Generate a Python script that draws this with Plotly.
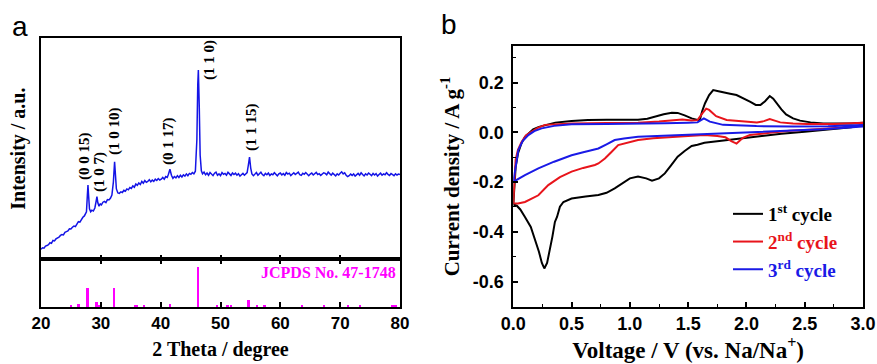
import plotly.graph_objects as go

# ---------------- Panel a: XRD ----------------
two_theta = [20.00, 20.25, 20.50, 20.75, 21.00, 21.25, 21.50, 21.75, 22.00, 22.25, 22.50, 22.75,
             23.00, 23.25, 23.50, 23.75, 24.00, 24.25, 24.50, 24.75, 25.00, 25.25, 25.50, 25.75,
             26.00, 26.25, 26.50, 26.75, 27.00, 27.25, 27.45, 27.60, 27.75, 27.85, 27.95, 28.10,
             28.30, 28.50, 28.75, 29.00, 29.20, 29.35, 29.50, 29.70, 29.90, 30.10, 30.35, 30.60,
             30.85, 31.10, 31.35, 31.60, 31.85, 32.10, 32.30, 32.45, 32.60, 32.85, 33.10, 33.35,
             33.60, 33.85, 34.10, 34.35, 34.60, 34.85, 35.10, 35.35, 35.60, 35.85, 36.10, 36.35,
             36.60, 36.85, 37.10, 37.35, 37.60, 37.85, 38.10, 38.35, 38.60, 38.85, 39.10, 39.35,
             39.60, 39.85, 40.10, 40.35, 40.60, 40.85, 41.10, 41.30, 41.55, 41.80, 42.05, 42.30,
             42.55, 42.80, 43.05, 43.30, 43.55, 43.80, 44.05, 44.30, 44.55, 44.80, 45.05, 45.30,
             45.55, 45.80, 46.05, 46.20, 46.30, 46.45, 46.60, 46.80, 47.00, 47.25, 47.50, 47.75,
             48.00, 48.25, 48.50, 48.75, 49.00, 49.25, 49.50, 49.75, 50.00, 50.25, 50.50, 50.75,
             51.00, 51.25, 51.50, 51.75, 52.00, 52.25, 52.50, 52.75, 53.00, 53.25, 53.50, 53.75,
             54.00, 54.25, 54.45, 54.65, 54.85, 55.05, 55.25, 55.50, 55.75, 56.00, 56.25, 56.50,
             56.75, 57.00, 57.25, 57.50, 57.75, 58.00, 58.25, 58.50, 58.75, 59.00, 59.25, 59.50,
             59.75, 60.00, 60.25, 60.50, 60.75, 61.00, 61.25, 61.50, 61.75, 62.00, 62.25, 62.50,
             62.75, 63.00, 63.25, 63.50, 63.75, 64.00, 64.25, 64.50, 64.75, 65.00, 65.25, 65.50,
             65.75, 66.00, 66.25, 66.50, 66.75, 67.00, 67.25, 67.50, 67.75, 68.00, 68.25, 68.50,
             68.75, 69.00, 69.25, 69.50, 69.75, 70.00, 70.25, 70.50, 70.75, 71.00, 71.25, 71.50,
             71.75, 72.00, 72.25, 72.50, 72.75, 73.00, 73.25, 73.50, 73.75, 74.00, 74.25, 74.50,
             74.75, 75.00, 75.25, 75.50, 75.75, 76.00, 76.25, 76.50, 76.75, 77.00, 77.25, 77.50,
             77.75, 78.00, 78.25, 78.50, 78.75, 79.00, 79.25, 79.50, 79.75, 80.00]
intensity = [45, 52, 50, 60, 62, 66, 75, 72, 85, 83, 92, 96,
             100, 108, 112, 110, 122, 125, 128, 138, 137, 145, 150, 148,
             160, 170, 168, 180, 190, 196, 205, 215, 290, 336, 290, 228,
             215, 222, 218, 232, 260, 283, 255, 240, 250, 246, 258, 262,
             256, 270, 268, 276, 290, 350, 441, 380, 318, 300, 298, 305,
             302, 312, 308, 318, 314, 324, 320, 332, 326, 340, 334, 345,
             338, 352, 344, 356, 348, 352, 360, 350, 358, 352, 362, 356,
             365, 358, 362, 370, 362, 374, 370, 384, 407, 380, 366, 374,
             368, 378, 370, 380, 372, 382, 376, 386, 378, 388, 384, 392,
             386, 398, 540, 790, 855, 690, 470, 400, 386, 394, 382, 390,
             380, 392, 384, 378, 389, 394, 380, 386, 378, 392, 384, 388,
             380, 393, 386, 379, 390, 383, 389, 380, 387, 376, 382, 388,
             380, 386, 392, 425, 462, 412, 386, 378, 388, 392, 380, 386,
             394, 383, 378, 388, 382, 390, 379, 386, 382, 391, 384, 377,
             386, 390, 381, 387, 380, 392, 385, 389, 378, 384, 391, 383,
             388, 394, 382, 379, 389, 384, 392, 386, 378, 385, 390, 381,
             388, 393, 383, 387, 379, 384, 391, 388, 382, 394, 385, 380,
             389, 383, 377, 386, 381, 389, 395, 386, 391, 380, 374, 378,
             385, 379, 386, 376, 383, 388, 380, 391, 383, 377, 386, 381,
             390, 384, 378, 388, 381, 387, 376, 383, 389, 380, 386, 382,
             391, 384, 379, 388, 383, 378, 386, 381, 385, 383]

peak_labels = ["(0 0 15)", "(1 0 7)", "(1 0 10)", "(0 1 17)", "(1 1 0)", "(1 1 15)"]
peak_label_x = [27.19, 29.69, 32.2, 41.23, 48.08, 55.1]
peak_label_y = [349, 295, 462, 417, 801, 480]

ref_pos = [25.0, 26.3, 27.8, 29.3, 29.75, 32.2, 35.7, 36.0, 37.2, 41.6, 46.3, 49.5, 51.2, 51.8,
           54.7, 56.2, 57.4, 63.7, 67.3, 71.3, 73.4, 78.8, 79.3]
ref_int = [3, 7, 46, 13, 3, 46, 5, 4, 5, 8, 100, 5, 5, 5, 18, 3, 5, 3, 5, 3, 3, 3, 3]

# ---------------- Panel b: CV ----------------
v1 = [0.00, 0.01, 0.02, 0.04, 0.07, 0.10, 0.13, 0.17, 0.22, 0.30, 0.36, 0.50, 0.64, 0.80, 0.95, 1.07,
      1.15, 1.21, 1.29, 1.36, 1.41, 1.47, 1.53, 1.58, 1.60, 1.62, 1.645, 1.68, 1.715, 1.76, 1.80, 1.86,
      1.915, 1.97, 2.03, 2.08, 2.12, 2.16, 2.20, 2.23, 2.26, 2.30, 2.34, 2.40, 2.46, 2.55, 2.66, 2.80,
      2.90, 3.00,
      3.00, 2.90, 2.70, 2.50, 2.30, 2.10, 1.95, 1.80, 1.70, 1.64, 1.58, 1.53, 1.47, 1.41, 1.35, 1.30,
      1.25, 1.19, 1.14, 1.07, 1.00, 0.94, 0.87, 0.80, 0.73, 0.62, 0.50, 0.43, 0.40, 0.375, 0.357,
      0.335, 0.315, 0.29, 0.266, 0.245, 0.22, 0.186, 0.15, 0.10, 0.06, 0.03, 0.00]
i1 = [-0.29, -0.20, -0.14, -0.085, -0.044, -0.018, -0.004, 0.012, 0.022, 0.033, 0.039, 0.046, 0.050,
      0.051, 0.051, 0.051, 0.055, 0.063, 0.073, 0.079, 0.078, 0.068, 0.056, 0.050, 0.050, 0.085, 0.117,
      0.150, 0.170, 0.165, 0.160, 0.155, 0.150, 0.138, 0.123, 0.110, 0.110, 0.125, 0.146, 0.135, 0.116,
      0.092, 0.072, 0.056, 0.047, 0.040, 0.036, 0.035, 0.036, 0.039,
      0.030, 0.020, 0.010, 0.002, -0.006, -0.016, -0.026, -0.034, -0.038, -0.042, -0.050, -0.055,
      -0.075, -0.098, -0.135, -0.165, -0.185, -0.194, -0.185, -0.178, -0.185, -0.205, -0.225, -0.243,
      -0.252, -0.258, -0.266, -0.280, -0.299, -0.34, -0.36, -0.42, -0.474, -0.525, -0.547, -0.525,
      -0.48, -0.433, -0.38, -0.34, -0.31, -0.295, -0.29]

v2 = [0.00, 0.01, 0.02, 0.04, 0.07, 0.11, 0.157, 0.21, 0.272, 0.40, 0.50, 0.80, 1.07, 1.25, 1.36, 1.45,
      1.53, 1.58, 1.62, 1.655, 1.68, 1.74, 1.83, 1.95, 2.09, 2.15, 2.20, 2.25, 2.29, 2.40, 2.52, 2.75,
      3.00,
      3.00, 2.80, 2.60, 2.37, 2.20, 2.03, 1.97, 1.915, 1.87, 1.82, 1.75, 1.64, 1.50, 1.36, 1.20, 1.07,
      0.98, 0.90, 0.84, 0.786, 0.73, 0.70, 0.60, 0.50, 0.40, 0.30, 0.215, 0.10, 0.04, 0.00]
i2 = [-0.285, -0.19, -0.11, -0.07, -0.040, -0.012, 0.003, 0.018, 0.030, 0.035, 0.036, 0.038, 0.039,
      0.044, 0.050, 0.052, 0.048, 0.049, 0.075, 0.095, 0.090, 0.065, 0.050, 0.044, 0.040, 0.045, 0.053,
      0.046, 0.040, 0.036, 0.034, 0.034, 0.039,
      0.030, 0.018, 0.012, 0.006, -0.002, -0.011, -0.022, -0.045, -0.035, -0.020, -0.015, -0.011,
      -0.015, -0.018, -0.024, -0.031, -0.040, -0.051, -0.080, -0.105, -0.125, -0.131, -0.143, -0.158,
      -0.180, -0.212, -0.253, -0.280, -0.286, -0.285]

v3 = [0.00, 0.02, 0.043, 0.08, 0.129, 0.18, 0.243, 0.35, 0.50, 0.80, 1.07, 1.30, 1.50, 1.58, 1.635,
      1.686, 1.80, 2.086, 2.40, 2.70, 3.00,
      3.00, 2.657, 2.30, 2.086, 1.80, 1.515, 1.36, 1.07, 0.95, 0.87, 0.80, 0.73, 0.60, 0.50, 0.35,
      0.215, 0.10, 0.00]
i3 = [-0.20, -0.13, -0.071, -0.035, -0.011, 0.005, 0.016, 0.026, 0.033, 0.034, 0.034, 0.037, 0.039,
      0.040, 0.056, 0.043, 0.030, 0.025, 0.023, 0.024, 0.029,
      0.023, 0.012, 0.005, 0.002, -0.004, -0.009, -0.011, -0.018, -0.025, -0.031, -0.048, -0.065,
      -0.080, -0.092, -0.118, -0.145, -0.172, -0.199]

cycle_names = ["1<sup>st</sup> cycle", "2<sup>nd</sup> cycle", "3<sup>rd</sup> cycle"]
cycle_colors = ["#000000", "#e8141b", "#1a1ae6"]

xrd_ticks = [20, 30, 40, 50, 60, 70, 80]
cv_xticks = [0.0, 0.5, 1.0, 1.5, 2.0, 2.5, 3.0]
cv_yticks = [-0.6, -0.4, -0.2, 0.0, 0.2]
cv_ytext = ["-0.6", "-0.4", "-0.2", "0.0", "0.2"]

# ---------------- Figure ----------------
SERIF = "Liberation Serif"
SANS = "Liberation Sans"
W, H = 877, 364
ML, MR, MT, MB = 41, 14, 38, 57
PW, PH = W - ML - MR, H - MT - MB


def px_x(p):
    return (p - ML) / PW


def px_y(p):
    return (H - MB - p) / PH


fig = go.Figure()

fig.add_trace(go.Scatter(x=two_theta, y=intensity, mode="lines",
                         line=dict(color="#1414e6", width=1.5),
                         xaxis="x", yaxis="y", showlegend=False))
fig.add_trace(go.Bar(x=ref_pos, y=ref_int, width=0.3, marker=dict(color="#ff00ff", line=dict(width=0)),
                     xaxis="x2", yaxis="y2", showlegend=False))

for v, i, n, c in zip([v1, v2, v3], [i1, i2, i3], cycle_names, cycle_colors):
    fig.add_trace(go.Scatter(x=v, y=i, mode="lines", line=dict(color=c, width=2),
                             name=f"<span style='color:{c}'>{n}</span>",
                             legendgroup=n, xaxis="x3", yaxis="y3"))

axis_line = dict(showline=True, linecolor="black", linewidth=1.6, mirror=True, showgrid=False,
                 zeroline=False)
tickfont_a = dict(family=SANS, size=17, color="black", weight="bold")
tickfont_b = dict(family=SANS, size=18, color="black", weight="bold")
titlefont_a = dict(family=SERIF, size=20, color="black", weight="bold")

xa_dom = [0, px_x(400)]
xb_dom = [px_x(513.3), 1.0]
split = px_y(259.3)

fig.update_layout(
    width=W, height=H,
    margin=dict(l=ML, r=MR, t=MT, b=MB, autoexpand=False),
    paper_bgcolor="white", plot_bgcolor="white",
    font=dict(family=SERIF, color="black"),
    bargap=0,
    xaxis=dict(domain=xa_dom, anchor="y", range=[20, 80], tickvals=xrd_ticks, ticks="inside",
               ticklen=5, tickwidth=1.5, tickcolor="black", showticklabels=False, **axis_line),
    yaxis=dict(domain=[split, 1.0], anchor="x", range=[0, 1000], showticklabels=False, ticks="",
               title=dict(text="Intensity / a.u.", font=titlefont_a, standoff=8), **axis_line),
    xaxis2=dict(domain=xa_dom, anchor="y2", matches="x", range=[20, 80], tickvals=xrd_ticks,
                ticks="inside", ticklen=5, tickwidth=1.5, tickcolor="black", tickfont=tickfont_a,
                title=dict(text="2 Theta / degree", font=titlefont_a, standoff=10),
                showline=True, linecolor="black", linewidth=1.6, mirror="ticks", showgrid=False,
                zeroline=False),
    yaxis2=dict(domain=[0, split], anchor="x2", range=[0, 120], showticklabels=False, ticks="",
                **axis_line),
    xaxis3=dict(domain=xb_dom, anchor="y3", range=[0, 3.0], tickvals=cv_xticks,
                ticktext=[f"{t:.1f}" for t in cv_xticks], ticks="inside", ticklen=5, tickwidth=1.5,
                tickcolor="black", tickfont=tickfont_b,
                minor=dict(dtick=0.25, ticks="inside", ticklen=3, tickwidth=1.2, tickcolor="black"),
                title=dict(text="Voltage / V (vs. Na/Na<sup>+</sup>)",
                           font=dict(family=SERIF, size=23, color="black", weight="bold"), standoff=6),
                **axis_line),
    yaxis3=dict(domain=[0, px_y(46)], anchor="x3", range=[-0.702, 0.347], tickvals=cv_yticks,
                ticktext=cv_ytext, ticks="inside", ticklen=5, tickwidth=1.5, tickcolor="black",
                tickfont=tickfont_b, ticklabelstandoff=4,
                minor=dict(dtick=0.1, ticks="inside", ticklen=3, tickwidth=1.2, tickcolor="black"),
                title=dict(text="Current density / A g<sup>-1</sup>",
                           font=dict(family=SERIF, size=21, color="black", weight="bold"), standoff=8),
                **axis_line),
    legend=dict(x=px_x(728), y=px_y(195), xanchor="left", yanchor="top",
                font=dict(family=SERIF, size=19, color="black", weight="bold"),
                bgcolor="rgba(0,0,0,0)", itemwidth=30, tracegroupgap=5, traceorder="normal"),
)

# panel letters
fig.add_annotation(text="a", x=px_x(20), y=px_y(26), xref="paper", yref="paper", showarrow=False,
                   xanchor="center", yanchor="middle",
                   font=dict(family=SANS, size=28, color="black"))
fig.add_annotation(text="b", x=px_x(449), y=px_y(25), xref="paper", yref="paper", showarrow=False,
                   xanchor="center", yanchor="middle",
                   font=dict(family=SANS, size=28, color="black"))

# peak labels
for t, x, y in zip(peak_labels, peak_label_x, peak_label_y):
    fig.add_annotation(text=t, x=x, y=y, xref="x", yref="y", textangle=-90, showarrow=False,
                       xanchor="center", yanchor="bottom",
                       font=dict(family=SERIF, size=15, color="black", weight="bold"))

fig.add_annotation(text="JCPDS No. 47-1748", x=79.6, y=86, xref="x2", yref="y2", showarrow=False,
                   xanchor="right", yanchor="middle",
                   font=dict(family=SERIF, size=16, color="#ff00ff", weight="bold"))

fig.write_html("out.html", config={"displayModeBar": False},
               post_script="document.body.style.margin='0px';")
